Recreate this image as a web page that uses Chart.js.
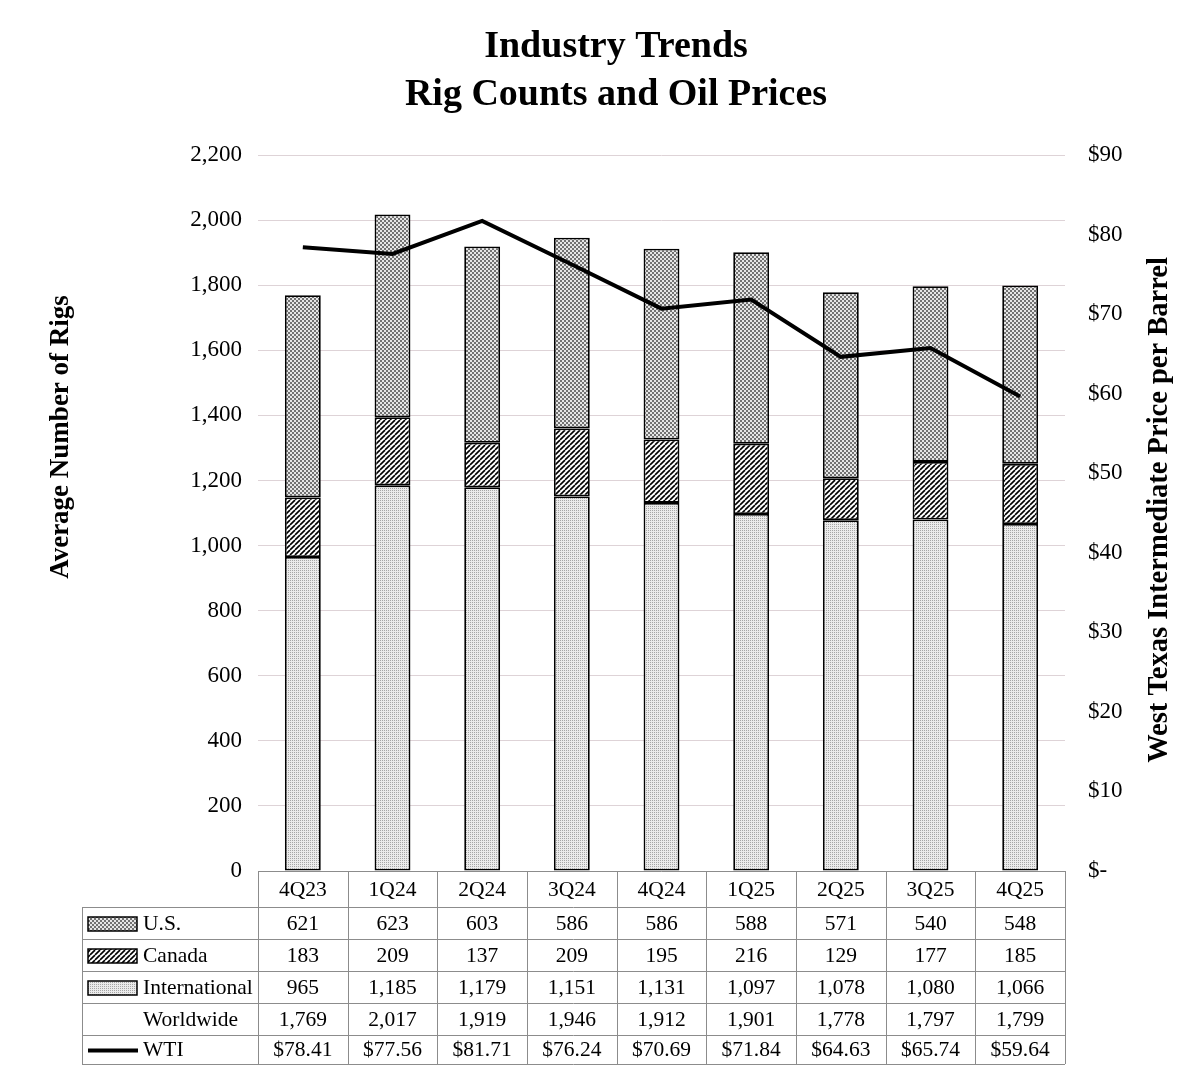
<!DOCTYPE html>
<html>
<head>
<meta charset="utf-8">
<title>Industry Trends - Rig Counts and Oil Prices</title>
<script src="https://cdn.jsdelivr.net/npm/chart.js@4.4.1/dist/chart.umd.min.js"></script>
<style>
  html, body { margin: 0; padding: 0; background: #fff; }
  #rigChart { display: block; }
</style>
</head>
<body>
<canvas id="rigChart" width="1192" height="1065"></canvas>
<script>
// quarters and values
const quarters = ['4Q23', '1Q24', '2Q24', '3Q24', '4Q24', '1Q25', '2Q25', '3Q25', '4Q25'];
const usRigs = [621, 623, 603, 586, 586, 588, 571, 540, 548];
const canadaRigs = [183, 209, 137, 209, 195, 216, 129, 177, 185];
const internationalRigs = [965, 1185, 1179, 1151, 1131, 1097, 1078, 1080, 1066];
const worldwideRigs = [1769, 2017, 1919, 1946, 1912, 1901, 1778, 1797, 1799];
const wtiPrice = [78.41, 77.56, 81.71, 76.24, 70.69, 71.84, 64.63, 65.74, 59.64];

const SERIF = '"Liberation Serif", "Times New Roman", serif';

// small tiles used as fill patterns, like the old excel fills
function makePattern(draw, size) {
    const c = document.createElement('canvas');
    c.width = size;
    c.height = size;
    draw(c.getContext('2d'), size);
    return c.getContext('2d').createPattern(c, 'repeat');
}

const intlFill = makePattern((g, s) => {
    g.fillStyle = '#ebebeb';
    g.fillRect(0, 0, s, s);
    g.fillStyle = '#a6a6a6';
    g.fillRect(0, 0, 1, 1);
    g.fillRect(2, 2, 1, 1);
    g.fillRect(0, 2, 1, 1);
    g.fillRect(2, 0, 1, 1);
}, 4);

const usFill = makePattern((g, s) => {
    g.fillStyle = '#e6e6e6';
    g.fillRect(0, 0, s, s);
    g.fillStyle = '#727272';
    g.fillRect(0, 0, 2, 2);
    g.fillRect(2, 2, 2, 2);
}, 4);

const canadaFill = makePattern((g, s) => {
    g.fillStyle = '#fff';
    g.fillRect(0, 0, s, s);
    g.strokeStyle = '#000';
    g.lineWidth = 1.6;
    for (let k = -1; k <= 1; k++) {
        g.beginPath();
        g.moveTo(k * s, s);
        g.lineTo(k * s + s, 0);
        g.stroke();
    }
}, 5);

const fmt = v => v.toLocaleString('en-US');

// title, axis titles and the data table under the plot
const tablePlugin = {
    id: 'tablePlugin',
    afterDraw(chart) {
        const ctx = chart.ctx;
        const area = chart.chartArea;
        const x = chart.scales.x;
        const colW = (area.right - area.left) / quarters.length;
        const tableLeft = 82;
        const rowTops = [area.bottom, 907, 939, 971, 1003, 1035, 1064];

        ctx.save();
        ctx.fillStyle = '#000';
        ctx.textAlign = 'center';
        ctx.textBaseline = 'middle';
        ctx.font = 'bold 38px ' + SERIF;
        ctx.fillText('Industry Trends', 616, 47);
        ctx.fillText('Rig Counts and Oil Prices', 616, 95);

        ctx.font = 'bold 27px ' + SERIF;
        ctx.save();
        ctx.translate(61, 437);
        ctx.rotate(-Math.PI / 2);
        ctx.fillText('Average Number of Rigs', 0, 0);
        ctx.restore();
        ctx.font = 'bold 28.5px ' + SERIF;
        ctx.save();
        ctx.translate(1160, 510);
        ctx.rotate(-Math.PI / 2);
        ctx.fillText('West Texas Intermediate Price per Barrel', 0, 0);
        ctx.restore();

        // grid lines of the table
        ctx.strokeStyle = '#8c8c8c';
        ctx.lineWidth = 1;
        ctx.beginPath();
        ctx.moveTo(area.left, rowTops[0] + 0.5);
        ctx.lineTo(area.right, rowTops[0] + 0.5);
        for (let r = 1; r < rowTops.length; r++) {
            ctx.moveTo(tableLeft, rowTops[r] + 0.5);
            ctx.lineTo(area.right, rowTops[r] + 0.5);
        }
        for (let i = 0; i <= quarters.length; i++) {
            const cx = Math.round(area.left + i * colW) + 0.5;
            ctx.moveTo(cx, rowTops[0]);
            ctx.lineTo(cx, rowTops[rowTops.length - 1]);
        }
        ctx.moveTo(tableLeft + 0.5, rowTops[1]);
        ctx.lineTo(tableLeft + 0.5, rowTops[rowTops.length - 1]);
        ctx.stroke();

        const rows = [
            { label: 'U.S.', fill: usFill, values: usRigs.map(fmt) },
            { label: 'Canada', fill: canadaFill, values: canadaRigs.map(fmt) },
            { label: 'International', fill: intlFill, values: internationalRigs.map(fmt) },
            { label: 'Worldwide', values: worldwideRigs.map(fmt) },
            { label: 'WTI', line: true, values: wtiPrice.map(v => '$' + v.toFixed(2)) }
        ];

        ctx.font = '21.5px ' + SERIF;
        quarters.forEach((q, i) => {
            ctx.fillText(q, x.getPixelForValue(i), (rowTops[0] + rowTops[1]) / 2 + 1);
        });

        rows.forEach((row, r) => {
            const cy = (rowTops[r + 1] + rowTops[r + 2]) / 2 + 1;
            ctx.textAlign = 'center';
            row.values.forEach((v, i) => {
                ctx.fillText(v, x.getPixelForValue(i), cy);
            });
            if (row.fill) {
                ctx.fillStyle = row.fill;
                ctx.fillRect(88, cy - 7, 49, 14);
                ctx.strokeStyle = '#000';
                ctx.lineWidth = 1.5;
                ctx.strokeRect(88, cy - 7, 49, 14);
                ctx.fillStyle = '#000';
            }
            if (row.line) {
                ctx.strokeStyle = '#000';
                ctx.lineWidth = 4;
                ctx.beginPath();
                ctx.moveTo(88, cy);
                ctx.lineTo(138, cy);
                ctx.stroke();
            }
            ctx.textAlign = 'left';
            ctx.fillText(row.label, 143, cy);
        });
        ctx.restore();
    }
};

const barStyle = {
    borderColor: '#000',
    borderWidth: 1.8,
    borderSkipped: false,
    barPercentage: 0.4,
    categoryPercentage: 1,
    yAxisID: 'y',
    order: 1
};

new Chart(document.getElementById('rigChart'), {
    type: 'bar',
    data: {
        labels: quarters,
        datasets: [
            { label: 'International', data: internationalRigs, backgroundColor: intlFill, ...barStyle },
            { label: 'Canada', data: canadaRigs, backgroundColor: canadaFill, ...barStyle },
            { label: 'U.S.', data: usRigs, backgroundColor: usFill, ...barStyle },
            {
                type: 'line',
                label: 'WTI',
                data: wtiPrice,
                yAxisID: 'y2',
                borderColor: '#000',
                borderWidth: 4,
                pointRadius: 0,
                tension: 0,
                fill: false,
                order: 0
            }
        ]
    },
    options: {
        responsive: false,
        animation: false,
        layout: { padding: { top: 155, bottom: 194, left: 0, right: 0 } },
        plugins: {
            legend: { display: false },
            title: { display: false },
            tooltip: { enabled: false }
        },
        scales: {
            x: {
                stacked: true,
                display: false
            },
            y: {
                stacked: true,
                min: 0,
                max: 2200,
                afterFit(scale) { scale.width = 258; },
                ticks: {
                    stepSize: 200,
                    color: '#000',
                    padding: 16,
                    font: { family: SERIF, size: 23 },
                    callback: v => fmt(v)
                },
                grid: { color: '#ded3d7', lineWidth: 1, drawTicks: false },
                border: { display: false }
            },
            y2: {
                position: 'right',
                min: 0,
                max: 90,
                afterFit(scale) { scale.width = 127; },
                ticks: {
                    stepSize: 10,
                    color: '#000',
                    padding: 23,
                    font: { family: SERIF, size: 23 },
                    callback: v => (v === 0 ? '$-' : '$' + v)
                },
                grid: { display: false, drawTicks: false },
                border: { display: false }
            }
        }
    },
    plugins: [tablePlugin]
});
</script>
</body>
</html>
